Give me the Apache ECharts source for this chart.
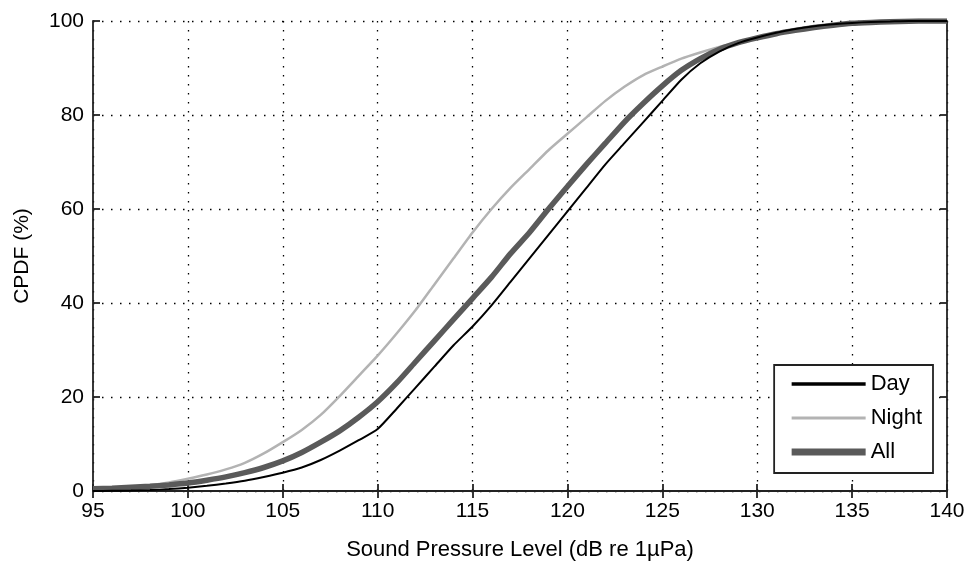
<!DOCTYPE html>
<html><head><meta charset="utf-8">
<script src="https://cdn.jsdelivr.net/npm/echarts@6/dist/echarts.min.js"></script>
<style>html,body{margin:0;padding:0;background:#fff}#c{width:968px;height:563px}</style>
</head><body><div id="c"></div>
<script>
const spl = [95,96,97,98,99,100,101,102,103,104,105,106,107,108,109,110,111,112,113,114,115,116,117,118,119,120,121,122,123,124,125,126,127,128,129,130,131,132,133,134,135,136,137,138,139,140];
const dayValues = [0,0.05,0.1,0.2,0.4,0.7,1.1,1.6,2.2,3.0,3.9,5.0,6.6,8.6,10.8,13.2,17.5,22,26.5,31,35,39.5,44.5,49.5,54.5,59.5,64.5,69.5,74,78.5,83,87.5,91,93.5,95.3,96.5,97.5,98.3,98.9,99.3,99.6,99.8,99.9,100,100,100];
const nightValues = [0.3,0.5,0.8,1.2,1.8,2.6,3.5,4.6,6.0,8.0,10.4,13.0,16.2,20.2,24.5,28.8,33.5,38.5,44,49.5,55,60,64.5,68.5,72.5,76,79.5,83,86,88.5,90.3,92,93.3,94.5,95.5,96.4,97.2,97.9,98.5,99.0,99.4,99.7,99.85,99.95,100,100];
const allValues = [0.5,0.6,0.8,1.0,1.3,1.7,2.3,3.0,3.9,5.0,6.4,8.2,10.4,12.8,15.7,19,23,27.5,32,36.5,41,45.5,50.5,55,60,64.8,69.5,74,78.5,82.5,86.2,89.5,92,94,95.4,96.4,97.3,98,98.6,99.1,99.5,99.7,99.85,99.95,100,100];
const seriesNames = ['Day','Night','All'];
const xTicks = [95,100,105,110,115,120,125,130,135,140];
const yTicks = [0,20,40,60,80,100];

const font = 'Liberation Sans, Arial, sans-serif';
const pair = v => spl.map((x,i)=>[x,v[i]]);
const chart = echarts.init(document.getElementById('c'), null, {renderer:'canvas'});
const axLine = {show:true, lineStyle:{color:'#222', width:1.8}};
const tick = {show:true, inside:true, length:7, lineStyle:{color:'#222', width:1.8}};
const grid = {show:true, lineStyle:{color:'#000', type:[1.5,7.5], width:1.3}};
const noSym = {color:'rgba(0,0,0,0)', borderWidth:0, opacity:0};
chart.setOption({
  animation:false,
  backgroundColor:'#fff',
  grid:{left:93, right:21, top:21, bottom:72, show:false, containLabel:false, outerBoundsMode:'none'},
  xAxis:[
    {type:'value', min:xTicks[0], max:xTicks[xTicks.length-1], interval:5, position:'bottom',
     axisLine:axLine, axisTick:tick, splitLine:grid,
     axisLabel:{color:'#000', fontSize:21, fontFamily:font, margin:10},
     name:'Sound Pressure Level (dB re 1µPa)', nameLocation:'middle', nameGap:48,
     nameTextStyle:{color:'#000', fontSize:22, fontFamily:font}},
    {type:'value', min:xTicks[0], max:xTicks[xTicks.length-1], interval:5, position:'top',
     axisLine:axLine, axisTick:tick, splitLine:{show:false}, axisLabel:{show:false}}
  ],
  yAxis:[
    {type:'value', min:yTicks[0], max:yTicks[yTicks.length-1], interval:20, position:'left',
     axisLine:axLine, axisTick:tick, splitLine:grid,
     axisLabel:{color:'#000', fontSize:21, fontFamily:font, margin:9},
     name:'CPDF (%)', nameLocation:'middle', nameGap:60, nameRotate:90,
     nameTextStyle:{color:'#000', fontSize:21, fontFamily:font}},
    {type:'value', min:yTicks[0], max:yTicks[yTicks.length-1], interval:20, position:'right',
     axisLine:axLine, axisTick:tick, splitLine:{show:false}, axisLabel:{show:false}}
  ],
  legend:{
    orient:'vertical', right:35, top:365,
    itemWidth:74, itemHeight:14, itemGap:12,
    padding:[8,11,10,14],
    borderColor:'#222', borderWidth:1.8, borderRadius:0, backgroundColor:'#fff',
    textStyle:{color:'#000', fontSize:22, lineHeight:22, fontFamily:font},
    data:[
      {name:seriesNames[0], lineStyle:{color:'#000', width:3.5}, itemStyle:noSym},
      {name:seriesNames[1], lineStyle:{color:'#b3b3b3', width:3}, itemStyle:noSym},
      {name:seriesNames[2], lineStyle:{color:'#5a5a5a', width:7}, itemStyle:noSym}
    ]
  },
  series:[
    {name:seriesNames[1], type:'line', data:pair(nightValues), showSymbol:false, symbol:'none', smooth:0.2,
     lineStyle:{color:'#b3b3b3', width:2.5}, itemStyle:{color:'#b3b3b3'}, z:3},
    {name:seriesNames[2], type:'line', data:pair(allValues), showSymbol:false, symbol:'none', smooth:0.2,
     lineStyle:{color:'#5a5a5a', width:5.5}, itemStyle:{color:'#5a5a5a'}, z:4},
    {name:seriesNames[0], type:'line', data:pair(dayValues), showSymbol:false, symbol:'none', smooth:0.2,
     lineStyle:{color:'#000', width:2}, itemStyle:{color:'#000'}, z:5}
  ]
});
</script></body></html>
